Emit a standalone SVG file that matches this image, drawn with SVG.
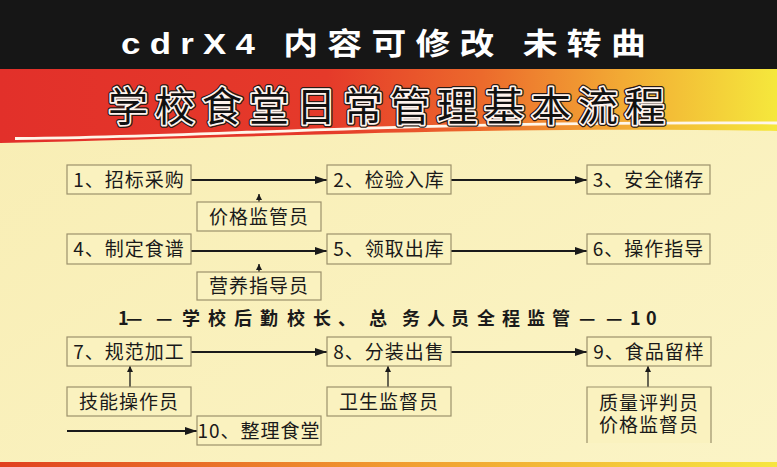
<svg xmlns="http://www.w3.org/2000/svg" width="777" height="467" viewBox="0 0 777 467">
<defs>
<linearGradient id="band" x1="0" y1="0" x2="1" y2="0">
<stop offset="0" stop-color="#e2302a"/>
<stop offset="0.42" stop-color="#e53a2a"/>
<stop offset="0.62" stop-color="#ec6a2c"/>
<stop offset="0.8" stop-color="#f2aa34"/>
<stop offset="1" stop-color="#f5e83c"/>
</linearGradient>
<linearGradient id="strip" x1="0" y1="0" x2="1" y2="0">
<stop offset="0" stop-color="#e0401f"/>
<stop offset="0.5" stop-color="#f09a30"/>
<stop offset="1" stop-color="#f6e640"/>
</linearGradient>
<linearGradient id="bg" x1="0" y1="0" x2="1" y2="1">
<stop offset="0" stop-color="#f8edb2"/>
<stop offset="1" stop-color="#fbf4c6"/>
</linearGradient>
<marker id="ah" viewBox="0 0 12 8" refX="12" refY="4" markerWidth="12" markerHeight="8" markerUnits="userSpaceOnUse" orient="auto">
<path d="M0,0 L12,4 L0,8 Z" fill="#1a1a1a"/>
</marker>
<marker id="ahs" viewBox="0 0 6 6" refX="6" refY="3" markerWidth="6" markerHeight="6" markerUnits="userSpaceOnUse" orient="auto">
<path d="M0,0 L6,3 L0,6 Z" fill="#1a1a1a"/>
</marker>
</defs>
<style>
.box{fill:#faf2bf;stroke:#9c916c;stroke-width:1.2}
.lbl{font-family:"Noto Sans CJK SC","Noto Sans",sans-serif;font-size:19px;fill:#1a1a1a;text-anchor:middle;letter-spacing:1px}
.main{stroke:#1a1a1a;stroke-width:2.2;fill:none;marker-end:url(#ah)}
.thin{stroke:#1a1a1a;stroke-width:1.3;fill:none;marker-end:url(#ahs)}
.title{font-family:"Noto Sans CJK SC",sans-serif;font-size:40px;letter-spacing:7px}
</style>
<rect x="0" y="0" width="777" height="467" fill="url(#bg)"/>
<rect x="0" y="0" width="777" height="70" fill="#161616"/>
<path d="M0,69 H777 V131 C 500,126 300,136 0,143 Z" fill="url(#band)"/>
<path d="M15,138.5 C 200,138 380,121 777,123" stroke="#fff6ea" stroke-width="2.8" fill="none"/>
<path d="M0,69 H777 V121 C 380,116 200,135 0,135 Z" fill="url(#band)"/>
<rect x="0" y="462" width="777" height="5" fill="url(#strip)"/>
<text x="121" y="54" textLength="534" lengthAdjust="spacingAndGlyphs" font-family="'Liberation Sans','Noto Sans CJK SC',sans-serif" font-weight="bold" font-size="30" letter-spacing="8" fill="#ffffff">cdrX4 内容可修改 未转曲</text>
<g id="title">
<text class="title" x="108" y="121" fill="#111" stroke="#2a1a14" stroke-width="6" stroke-linejoin="round">学校食堂日常管理基本流程</text>
<text class="title" x="108" y="121" fill="#111" stroke="#fff4ee" stroke-width="3.5" stroke-linejoin="round">学校食堂日常管理基本流程</text>
<text class="title" x="108" y="121" fill="#111">学校食堂日常管理基本流程</text>
</g>
<g id="connectors">
<line class="main" x1="191" y1="180" x2="327" y2="180"/>
<line class="main" x1="451" y1="180" x2="587" y2="180"/>
<line class="main" x1="191" y1="251" x2="327" y2="251"/>
<line class="main" x1="451" y1="251" x2="587" y2="251"/>
<line class="main" x1="191" y1="352" x2="327" y2="352"/>
<line class="main" x1="451" y1="352" x2="587" y2="352"/>
<line class="main" x1="67" y1="431" x2="197" y2="431"/>
<line class="thin" x1="259" y1="202" x2="259" y2="194"/>
<line class="thin" x1="259" y1="272" x2="259" y2="264"/>
<line class="thin" x1="130" y1="387" x2="130" y2="366"/>
<line class="thin" x1="388" y1="387" x2="388" y2="366"/>
<line class="thin" x1="648" y1="387" x2="648" y2="366"/>
</g>
<g id="n1"><rect class="box" x="67" y="165" width="124" height="29"/><text class="lbl" x="129" y="186.5">1、招标采购</text></g>
<g id="n2"><rect class="box" x="327" y="165" width="124" height="29"/><text class="lbl" x="389" y="186.5">2、检验入库</text></g>
<g id="n3"><rect class="box" x="587" y="165" width="123" height="29"/><text class="lbl" x="648.5" y="186.5">3、安全储存</text></g>
<g id="p1"><rect class="box" x="197" y="202" width="124" height="29"/><text class="lbl" x="259" y="223.5">价格监管员</text></g>
<g id="n4"><rect class="box" x="67" y="234" width="124" height="30"/><text class="lbl" x="129" y="256">4、制定食谱</text></g>
<g id="n5"><rect class="box" x="327" y="234" width="124" height="30"/><text class="lbl" x="389" y="256">5、领取出库</text></g>
<g id="n6"><rect class="box" x="587" y="234" width="123" height="30"/><text class="lbl" x="648.5" y="256">6、操作指导</text></g>
<g id="p2"><rect class="box" x="197" y="272" width="124" height="28"/><text class="lbl" x="259" y="293">营养指导员</text></g>
<g id="supervise"><text x="118 126 156 182 208 234 260 287 313 338 369 402 427 451 477 502 527 552 579 606 630 646" y="325" font-family="'Noto Sans CJK SC',sans-serif" font-weight="bold" font-size="18" fill="#1a1a1a">1——学校后勤校长、总务人员全程监管——10</text></g>
<g id="n7"><rect class="box" x="67" y="337" width="124" height="29"/><text class="lbl" x="129" y="358.5">7、规范加工</text></g>
<g id="n8"><rect class="box" x="327" y="337" width="124" height="29"/><text class="lbl" x="389" y="358.5">8、分装出售</text></g>
<g id="n9"><rect class="box" x="587" y="337" width="124" height="29"/><text class="lbl" x="649" y="358.5">9、食品留样</text></g>
<g id="p3"><rect class="box" x="67" y="387" width="124" height="29"/><text class="lbl" x="129" y="408.5">技能操作员</text></g>
<g id="p4"><rect class="box" x="327" y="387" width="124" height="29"/><text class="lbl" x="389" y="408.5">卫生监督员</text></g>
<g id="p5"><path d="M587,443 V387 H711 V443" fill="#faf2bf" stroke="#9c916c" stroke-width="1.2"/><text class="lbl" x="649" y="410">质量评判员</text><text class="lbl" x="649" y="432">价格监督员</text></g>
<g id="n10"><rect class="box" x="197" y="416" width="124" height="29"/><text class="lbl" x="259" y="437.5">10、整理食堂</text></g>
</svg>
